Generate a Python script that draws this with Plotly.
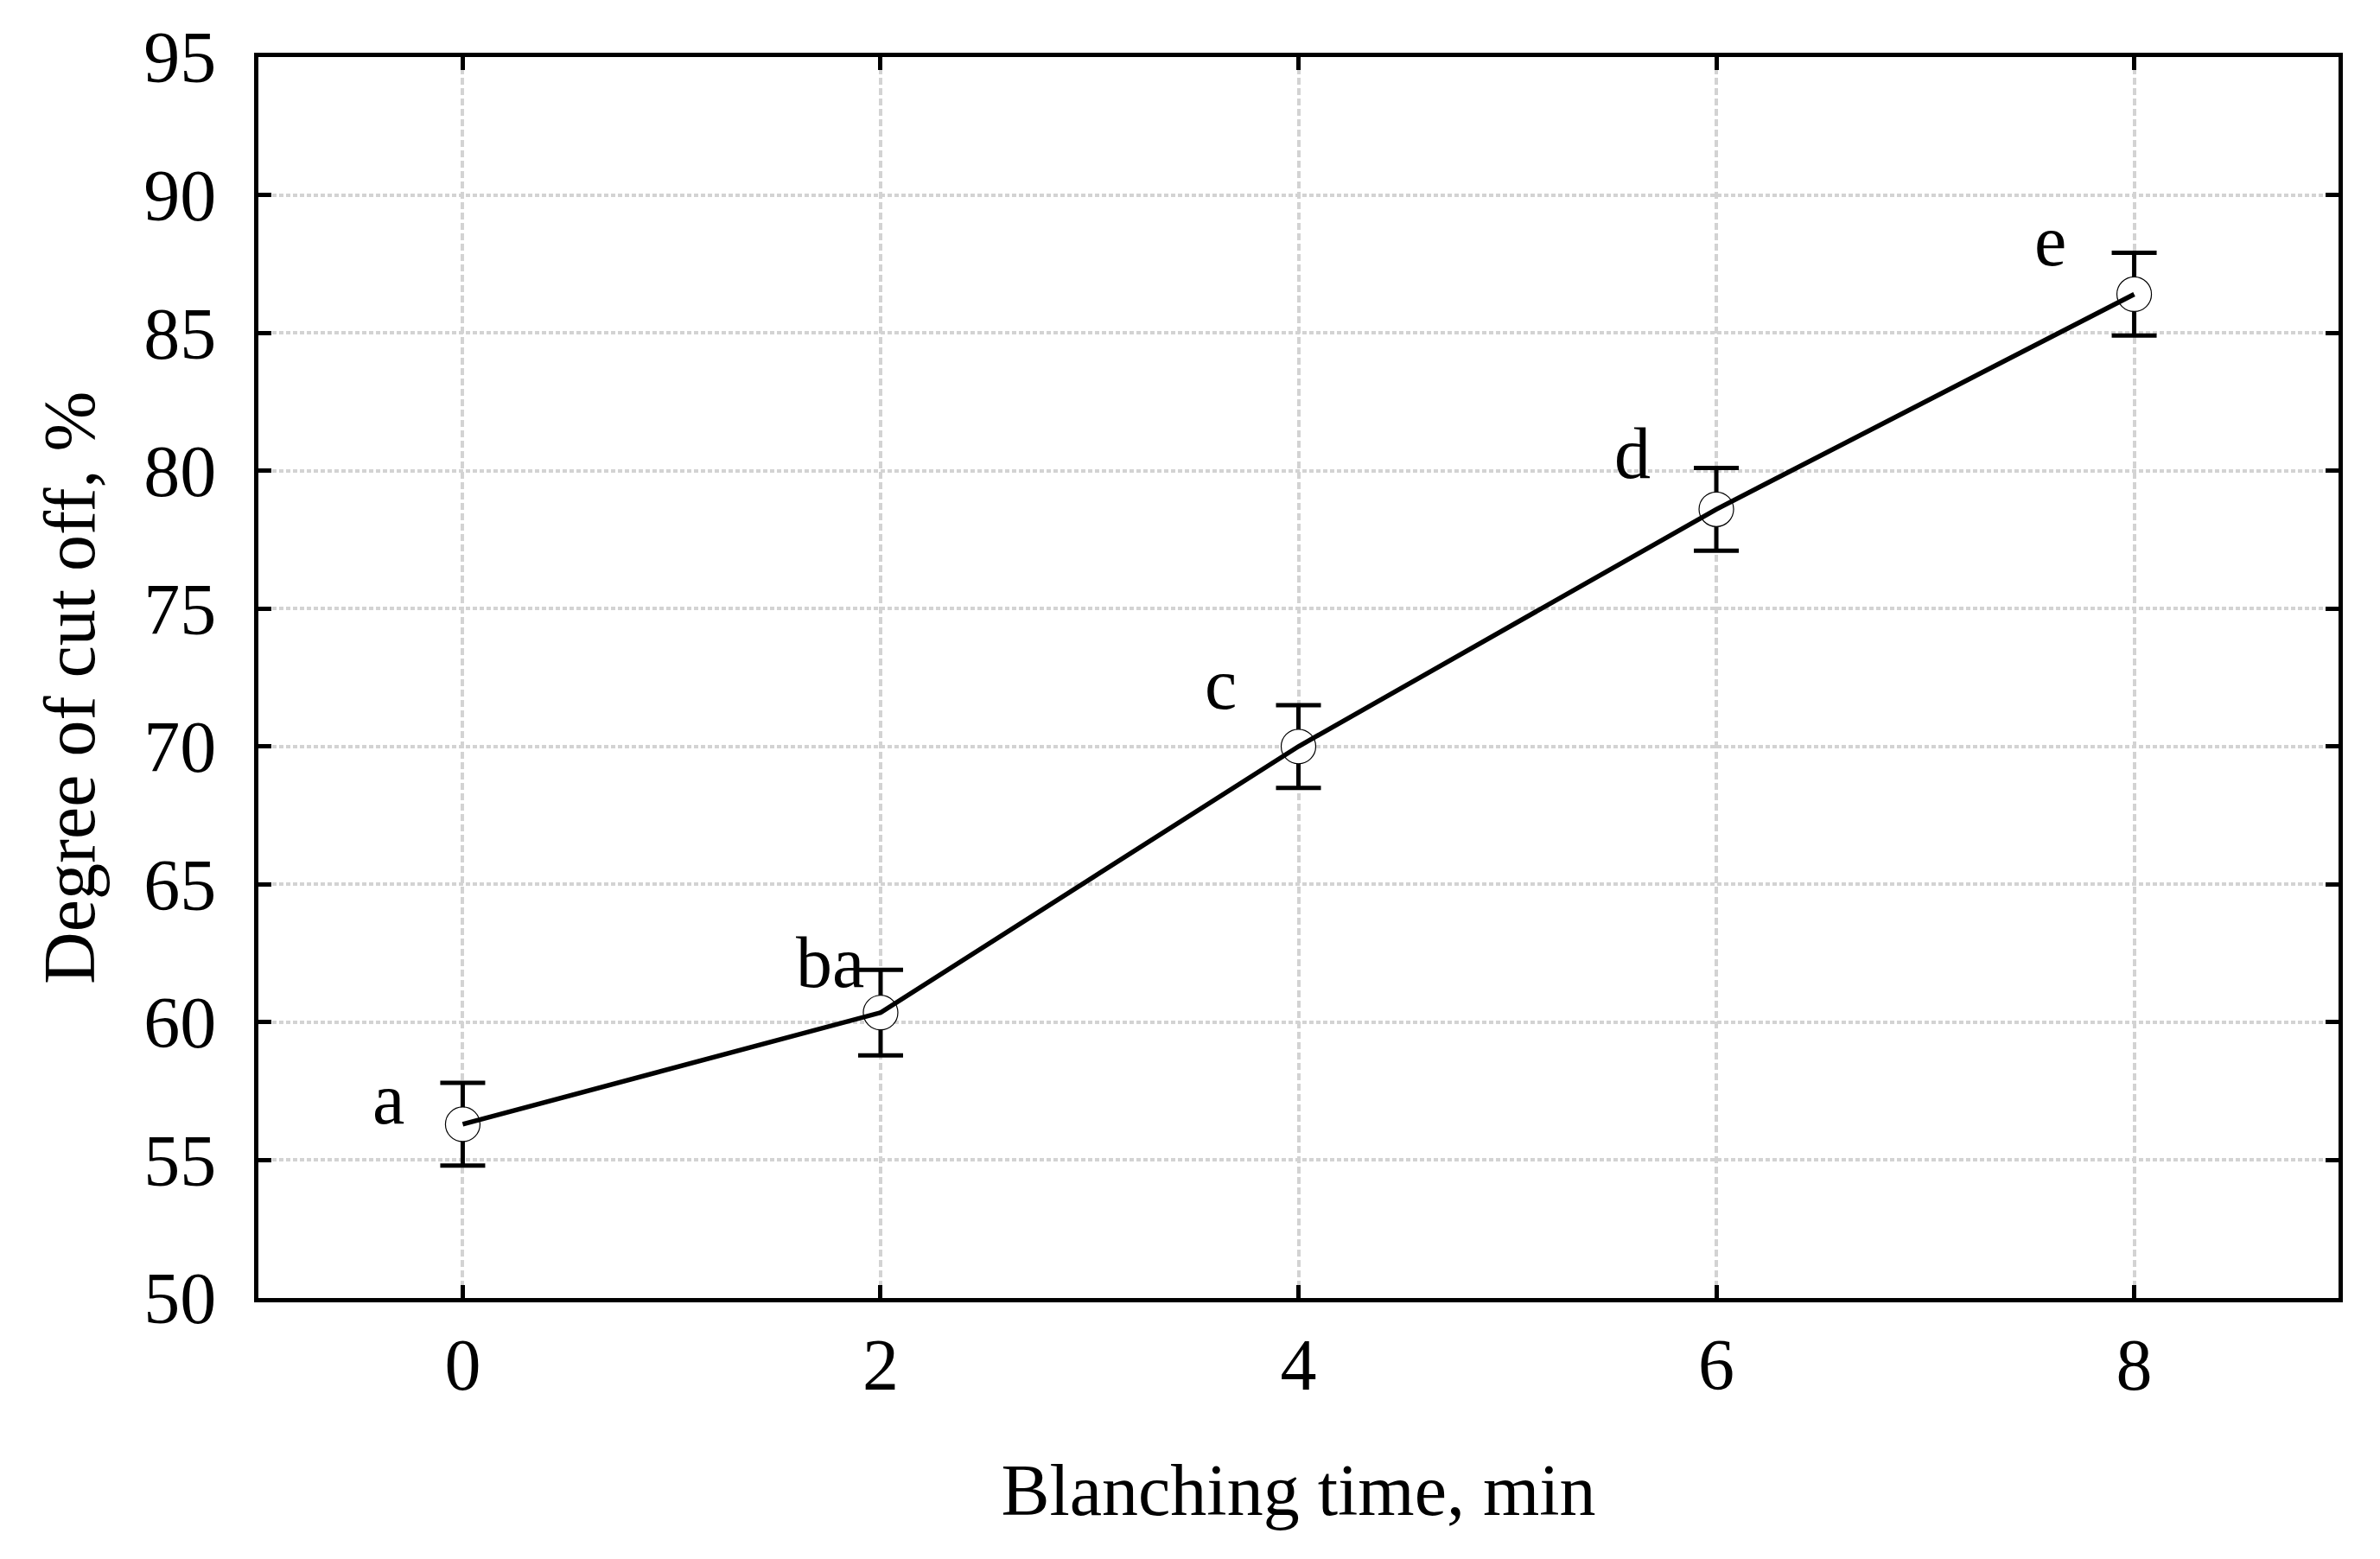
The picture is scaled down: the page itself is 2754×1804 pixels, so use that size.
import plotly.graph_objects as go

blanching_time = [0, 2, 4, 6, 8]
degree_cut_off = [56.3, 60.35, 70.0, 78.6, 86.4]
error_half = [1.5, 1.55, 1.5, 1.5, 1.5]
group_labels = ["a", "ba", "c", "d", "e"]
x_ticks = [0, 2, 4, 6, 8]
y_ticks = [50, 55, 60, 65, 70, 75, 80, 85, 90, 95]
x_title = "Blanching time, min"
y_title = "Degree of cut off, %"

# label offsets in pixels (style)
label_dx = [-86, -58, -90, -97, -97]
label_dy = [29, 58, 72, 65, 62]

FONT = "Liberation Serif"
FS = 84
PAGE_OFFSET = 8  # default body margin of the html page

fig = go.Figure()
fig.add_trace(go.Scatter(
    x=blanching_time, y=degree_cut_off, mode="markers",
    marker=dict(symbol="circle", size=40, color="white",
                line=dict(color="black", width=1.2)),
    error_y=dict(type="data", array=error_half, visible=True,
                 color="black", thickness=5, width=26),
    showlegend=False,
))
fig.add_trace(go.Scatter(
    x=blanching_time, y=degree_cut_off, mode="lines",
    line=dict(color="black", width=5.5), showlegend=False,
))

for xi, yi, lab, dx, dy in zip(blanching_time, degree_cut_off, group_labels, label_dx, label_dy):
    fig.add_annotation(x=xi, y=yi, text=lab, showarrow=False,
                       xshift=dx, yshift=dy,
                       font=dict(family=FONT, size=FS, color="black"))

# y-axis title as rotated annotation (slightly below centre, as in the original)
fig.add_annotation(xref="paper", yref="paper", x=0, y=0.5, text=y_title,
                   textangle=-90, showarrow=False, xanchor="center", yanchor="middle",
                   xshift=-219, yshift=-12,
                   font=dict(family=FONT, size=FS, color="black"))

axis_common = dict(
    showline=True, linecolor="black", linewidth=5, mirror="ticks",
    ticks="inside", ticklen=15, tickwidth=4.5, tickcolor="black",
    showgrid=True, gridcolor="#d3d3d3", gridwidth=4,
    zeroline=False,
    tickfont=dict(family=FONT, size=FS, color="black"),
)

fig.update_xaxes(
    range=[-0.978, 8.978], tickvals=x_ticks, griddash="8px,4px",
    title=dict(text=x_title, font=dict(family=FONT, size=FS, color="black"), standoff=71),
    **axis_common,
)
fig.update_yaxes(
    range=[50, 95], tickvals=y_ticks, griddash="5px,3px",
    ticklabelstandoff=27,
    **axis_common,
)

fig.update_layout(
    width=2754 - PAGE_OFFSET, height=1804 - PAGE_OFFSET,
    margin=dict(l=298.5 - PAGE_OFFSET, r=47.5, t=66 - PAGE_OFFSET, b=302),
    paper_bgcolor="white", plot_bgcolor="white",
)

fig.write_html("out.html")
